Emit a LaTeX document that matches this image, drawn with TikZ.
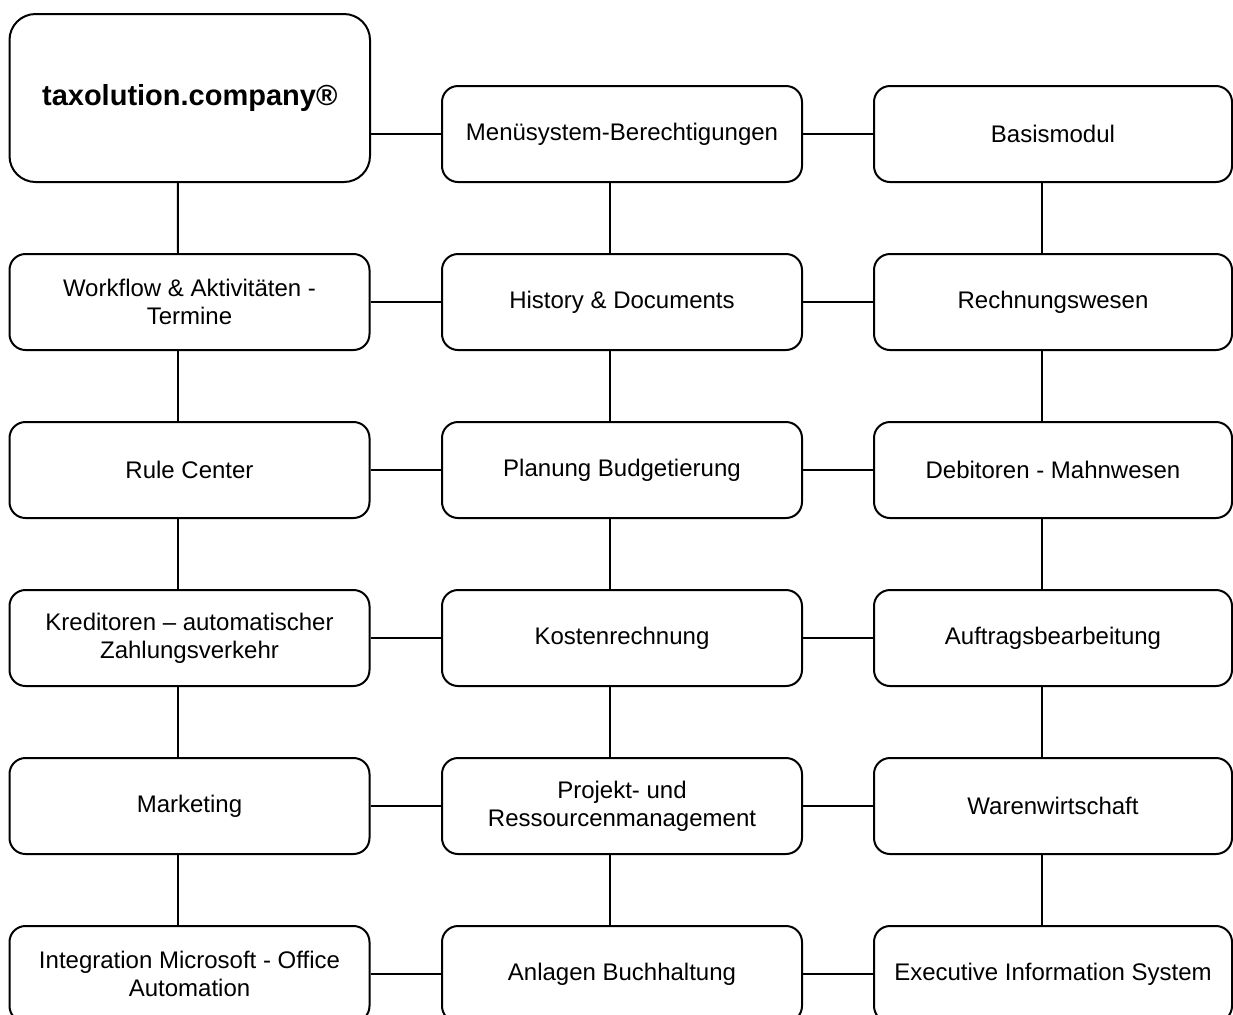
\documentclass[tikz,border=0pt]{standalone}
\usepackage{fontspec}
\setmainfont{Liberation Sans}
\usepackage{tikz}

\begin{document}
\begin{tikzpicture}[x=0.5pt, y=-0.5pt]
				\tikzstyle{every node}=[font=\fontsize{12}{13.8}\selectfont];
				\tikzstyle{modul}=[draw, line width=1pt, rounded corners=8pt, minimum width=180pt, minimum height=48pt, inner sep=0pt, align=center];
				\tikzstyle{link}=[line width=1pt];
				\useasboundingbox (0, 0) rectangle (1233, 1014);
				
				%Left column
				\node[modul, rounded corners=13pt, minimum width=180.25pt, minimum height=84pt, font=\fontsize{14.5}{17}\selectfont\bfseries] (tax) at (189.75, 98) {taxolution.company®};
				\node[modul] (workflow) at (189.5, 302) {Workflow \& Aktivitäten -\\Termine};
				\node[modul] (rule) at (189.5, 470) {Rule Center};
				\node[modul] (kreditoren) at (189.5, 638) {Kreditoren – automatischer\\Zahlungsverkehr};
				\node[modul] (marketing) at (189.5, 806) {Marketing};
				\node[modul] (office) at (189.5, 974) {Integration Microsoft - Office\\Automation};
				
				%Middle column
				\node[modul] (menu) at (622, 134) {Menüsystem-Berechtigungen};
				\node[modul] (history) at (622, 302) {History \& Documents};
				\node[modul] (planung) at (622, 470) {Planung Budgetierung};
				\node[modul] (kosten) at (622, 638) {Kostenrechnung};
				\node[modul] (projekt) at (622, 806) {Projekt- und\\Ressourcenmanagement};
				\node[modul] (anlagen) at (622, 974) {Anlagen Buchhaltung};
				
				%Right column
				\node[modul, minimum width=179pt] (basis) at (1053, 134) {Basismodul};
				\node[modul, minimum width=179pt] (rechnung) at (1053, 302) {Rechnungswesen};
				\node[modul, minimum width=179pt] (debitoren) at (1053, 470) {Debitoren - Mahnwesen};
				\node[modul, minimum width=179pt] (auftrag) at (1053, 638) {Auftragsbearbeitung};
				\node[modul, minimum width=179pt] (waren) at (1053, 806) {Warenwirtschaft};
				\node[modul, minimum width=179pt] (eis) at (1053, 974) {Executive Information System};
				
				%Rows
				\draw[link] (menu.west -| tax.east) -- (menu.west);
				\draw[link] (menu) -- (basis);
				\draw[link] (workflow) -- (history);
				\draw[link] (history) -- (rechnung);
				\draw[link] (rule) -- (planung);
				\draw[link] (planung) -- (debitoren);
				\draw[link] (kreditoren) -- (kosten);
				\draw[link] (kosten) -- (auftrag);
				\draw[link] (marketing) -- (projekt);
				\draw[link] (projekt) -- (waren);
				\draw[link] (office) -- (anlagen);
				\draw[link] (anlagen) -- (eis);
				
				%Columns
				\draw[link] ([xshift=-6pt]tax.south) -- ([xshift=-5.75pt]workflow.north);
				\draw[link] ([xshift=-5.75pt]workflow.south) -- ([xshift=-5.75pt]rule.north);
				\draw[link] ([xshift=-5.75pt]rule.south) -- ([xshift=-5.75pt]kreditoren.north);
				\draw[link] ([xshift=-5.75pt]kreditoren.south) -- ([xshift=-5.75pt]marketing.north);
				\draw[link] ([xshift=-5.75pt]marketing.south) -- ([xshift=-5.75pt]office.north);
				\draw[link] ([xshift=-6pt]menu.south) -- ([xshift=-6pt]history.north);
				\draw[link] ([xshift=-6pt]history.south) -- ([xshift=-6pt]planung.north);
				\draw[link] ([xshift=-6pt]planung.south) -- ([xshift=-6pt]kosten.north);
				\draw[link] ([xshift=-6pt]kosten.south) -- ([xshift=-6pt]projekt.north);
				\draw[link] ([xshift=-6pt]projekt.south) -- ([xshift=-6pt]anlagen.north);
				\draw[link] ([xshift=-5.5pt]basis.south) -- ([xshift=-5.5pt]rechnung.north);
				\draw[link] ([xshift=-5.5pt]rechnung.south) -- ([xshift=-5.5pt]debitoren.north);
				\draw[link] ([xshift=-5.5pt]debitoren.south) -- ([xshift=-5.5pt]auftrag.north);
				\draw[link] ([xshift=-5.5pt]auftrag.south) -- ([xshift=-5.5pt]waren.north);
				\draw[link] ([xshift=-5.5pt]waren.south) -- ([xshift=-5.5pt]eis.north);
			\end{tikzpicture}
\end{document}
